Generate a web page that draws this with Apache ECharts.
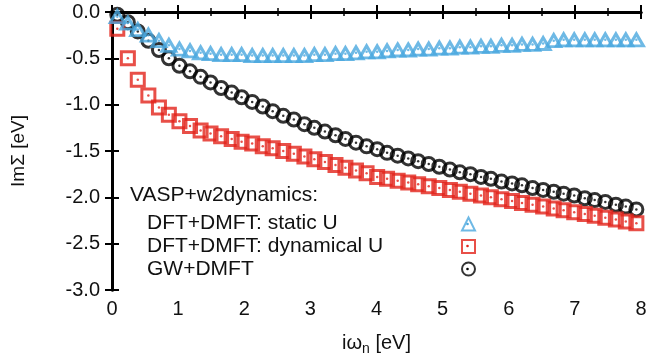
<!DOCTYPE html>
<html>
<head>
<meta charset="utf-8">
<script src="https://cdn.jsdelivr.net/npm/echarts@6/dist/echarts.min.js"></script>
<style>
  html, body { margin: 0; padding: 0; background: #fff; }
  #chart { width: 653px; height: 361px; }
</style>
</head>
<body>
<div id="chart"></div>
<script>
// Matsubara frequencies (eV)
var omega = [0.08, 0.24, 0.39, 0.55, 0.71, 0.86, 1.02, 1.18, 1.34, 1.49,
  1.65, 1.81, 1.96, 2.12, 2.28, 2.43, 2.59, 2.75, 2.91, 3.06,
  3.22, 3.38, 3.53, 3.69, 3.85, 4.01, 4.16, 4.32, 4.48, 4.63,
  4.79, 4.95, 5.11, 5.26, 5.42, 5.58, 5.73, 5.89, 6.05, 6.20,
  6.36, 6.52, 6.68, 6.83, 6.99, 7.15, 7.30, 7.46, 7.62, 7.77, 7.93];

var staticU = [-0.05, -0.12, -0.19, -0.25, -0.31, -0.36, -0.40, -0.42, -0.44, -0.45,
  -0.46, -0.46, -0.46, -0.47, -0.47, -0.47, -0.47, -0.47, -0.47, -0.46,
  -0.46, -0.45, -0.45, -0.44, -0.43, -0.43, -0.42, -0.41, -0.41, -0.40,
  -0.40, -0.39, -0.39, -0.38, -0.38, -0.37, -0.37, -0.36, -0.36, -0.35,
  -0.35, -0.34, -0.31, -0.30, -0.30, -0.30, -0.30, -0.30, -0.30, -0.30, -0.30];

var dynamicalU = [-0.18, -0.50, -0.73, -0.90, -1.03, -1.11, -1.18, -1.23, -1.28, -1.31,
  -1.34, -1.37, -1.40, -1.42, -1.45, -1.47, -1.50, -1.53, -1.56, -1.59,
  -1.62, -1.65, -1.68, -1.71, -1.74, -1.78, -1.80, -1.82, -1.84, -1.86,
  -1.88, -1.90, -1.92, -1.94, -1.96, -1.98, -2.00, -2.02, -2.04, -2.06,
  -2.08, -2.10, -2.12, -2.14, -2.16, -2.18, -2.20, -2.22, -2.24, -2.26, -2.28];

var gwDmft = [-0.03, -0.11, -0.21, -0.31, -0.41, -0.50, -0.58, -0.64, -0.70, -0.76,
  -0.82, -0.87, -0.92, -0.97, -1.02, -1.07, -1.12, -1.16, -1.21, -1.25,
  -1.29, -1.33, -1.37, -1.41, -1.45, -1.48, -1.52, -1.55, -1.58, -1.61,
  -1.64, -1.67, -1.70, -1.73, -1.75, -1.78, -1.80, -1.83, -1.85, -1.87,
  -1.90, -1.92, -1.94, -1.96, -1.98, -2.01, -2.03, -2.05, -2.08, -2.10, -2.13];

var names = ['DFT+DMFT: static U', 'DFT+DMFT: dynamical U', 'GW+DMFT'];
var colors = ['#4aa8de', '#e2231a', '#000000'];
var symbols = ['triangle', 'rect', 'circle'];
var symbolSizes = [[14, 12], 13, 13];
var values = [staticU, dynamicalU, gwDmft];

function pairs(ys) {
  return omega.map(function (x, i) { return [x, ys[i]]; });
}

var font = 'Liberation Sans, Arial, sans-serif';
var series = [];
// black drawn first, then red, blue on top
[2, 1, 0].forEach(function (k) {
  series.push({
    name: names[k],
    type: 'scatter',
    data: pairs(values[k]),
    symbol: symbols[k],
    symbolSize: symbolSizes[k],
    itemStyle: { color: 'transparent', borderColor: colors[k], borderWidth: 3 },
    emphasis: { disabled: true },
    silent: true
  });
  series.push({
    name: names[k] + ' dot',
    type: 'scatter',
    data: pairs(values[k]),
    symbol: 'circle',
    symbolSize: 2.5,
    itemStyle: { color: colors[k] },
    silent: true
  });
});

var axisLineStyle = { color: '#000', width: 3 };

// legend texts (left column) and centre dots of the legend icons
var legendRows = [223, 246, 269];
var graphics = [{
  type: 'text', x: 130, y: 195,
  style: { text: 'VASP+w2dynamics:', font: '21px ' + font, fill: '#111', textVerticalAlign: 'middle' }
}];
names.forEach(function (n, i) {
  graphics.push({
    type: 'text', x: 147, y: legendRows[i],
    style: { text: n, font: '21px ' + font, fill: '#111', textVerticalAlign: 'middle' }
  });
  graphics.push({
    type: 'circle', shape: { cx: 467.5, cy: legendRows[i] + (i === 0 ? 1 : 0), r: 1.3 },
    style: { fill: colors[i] }, z: 200
  });
});

var option = {
  animation: false,
  grid: { left: 112, right: 12, top: 12, bottom: 68 },
  xAxis: [{
    type: 'value', min: 0, max: 8, interval: 1,
    name: 'iω{sub|n} [eV]',
    nameLocation: 'middle', nameGap: 40,
    nameTextStyle: {
      fontFamily: font, fontSize: 20, color: '#111',
      rich: { sub: { fontFamily: font, fontSize: 14, verticalAlign: 'bottom', padding: [12, 0, 0, 0], color: '#111' } }
    },
    axisLine: { lineStyle: axisLineStyle },
    axisTick: { inside: true, length: 7, lineStyle: { color: '#000', width: 2 } },
    minorTick: { show: true, splitNumber: 2, length: 4, lineStyle: { color: '#000', width: 1.5 } },
    axisLabel: { fontFamily: font, fontSize: 20, color: '#111', margin: 9 },
    splitLine: { show: false }
  }, {
    type: 'value', min: 0, max: 8, interval: 1, position: 'top',
    axisLine: { lineStyle: axisLineStyle },
    axisTick: { inside: true, length: 7, lineStyle: { color: '#000', width: 2 } },
    minorTick: { show: true, splitNumber: 2, length: 4, lineStyle: { color: '#000', width: 1.5 } },
    axisLabel: { show: false },
    splitLine: { show: false }
  }],
  yAxis: [{
    type: 'value', min: -3, max: 0, interval: 0.5,
    name: 'ImΣ [eV]',
    nameLocation: 'middle', nameGap: 84,
    nameTextStyle: { fontFamily: font, fontSize: 19, color: '#111' },
    axisLine: { lineStyle: axisLineStyle },
    axisTick: { inside: true, length: 7, lineStyle: { color: '#000', width: 2 } },
    axisLabel: {
      fontFamily: font, fontSize: 20, color: '#111', margin: 12,
      formatter: function (v) { return v.toFixed(1); }
    },
    splitLine: { show: false }
  }, {
    type: 'value', min: -3, max: 0, interval: 0.5, position: 'right',
    axisLine: { lineStyle: axisLineStyle },
    axisTick: { inside: true, length: 7, lineStyle: { color: '#000', width: 2 } },
    axisLabel: { show: false },
    splitLine: { show: false }
  }],
  legend: {
    data: names,
    orient: 'vertical',
    left: 461, top: 216.5,
    padding: 0,
    itemGap: 7.5,
    itemWidth: 13, itemHeight: 13,
    selectedMode: false,
    formatter: function () { return ''; },
    textStyle: { fontSize: 1 }
  },
  graphic: graphics,
  series: series
};

echarts.init(document.getElementById('chart')).setOption(option);
</script>
</body>
</html>
